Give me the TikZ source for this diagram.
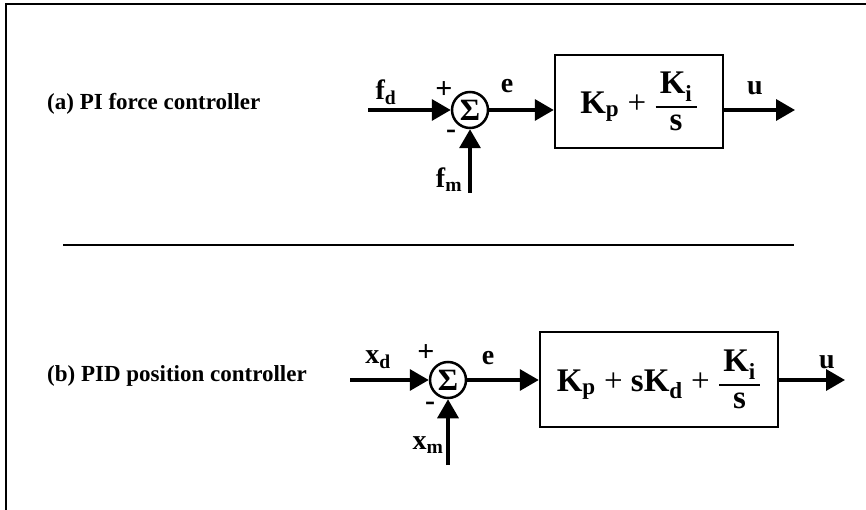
\documentclass[tikz,border=0pt]{standalone}
\usepackage{amsmath}
\usepackage{fontspec}
\setmainfont{Liberation Serif}
\usepackage{tikz}
\usetikzlibrary{arrows.meta,positioning}

\tikzset{
  sig/.style={line width=3.5pt,-{Triangle[length=19pt,width=21pt]}},
  sumnode/.style={circle,draw,line width=2.5pt,minimum size=36pt,inner sep=0pt,
    font=\bfseries\fontsize{31}{31}\selectfont},
  ctrlbox/.style={draw,line width=2.5pt,inner sep=0pt,
    font=\bfseries\fontsize{33}{35}\selectfont},
  lbl/.style={inner sep=0pt,font=\bfseries\fontsize{28}{29}\selectfont},
  sgn/.style={inner sep=0pt,font=\bfseries\fontsize{30}{30}\selectfont},
  desc/.style={inner sep=0pt,anchor=west,font=\bfseries\fontsize{23}{25}\selectfont},
  frameline/.style={line width=2pt},
}
\newcommand{\fracKs}{$\genfrac{}{}{1.6pt}{0}{\,\text{K\textsubscript{i}}\,}{\text{s}}$}

\begin{document}
\begin{tikzpicture}[x=1pt,y=-1pt]
\useasboundingbox (0,0) rectangle (866,510);
% frame and separator
\draw[frameline] (6,510) -- (6,4) -- (866,4);
\draw[frameline] (63,245) -- (794,245);

% (a) PI force controller
\node[desc] (labA) at (47,104) {(a) PI force controller};
\node[sumnode] (sumA) at (470,110) {Σ};
\node[ctrlbox,minimum width=168pt,minimum height=93pt] (ctrlA) at (639,101.5)
  {K\textsubscript{p} {\mdseries +} \fracKs};
\coordinate (fdin) at (368,110);
\coordinate (fmin) at (470,193);
\coordinate (uoutA) at (795,110);
\draw[sig] (fdin) -- (sumA.west);
\draw[sig] (fmin) -- (sumA.south);
\draw[sig] (sumA.east) -- (ctrlA.west |- sumA.east);
\draw[sig] (ctrlA.east |- sumA.east) -- (uoutA);
\node[lbl] (fdlab) at (386,92) {f\textsubscript{d}};
\node[sgn] (plusA) at (444,90) {+};
\node[sgn] (minusA) at (451,134) {-};
\node[lbl] (elabA) at (507,86) {e};
\node[lbl] (ulabA) at (755,88) {u};
\node[lbl] (fmlab) at (449,180) {f\textsubscript{m}};

% (b) PID position controller
\node[desc] (labB) at (47,376) {(b) PID position controller};
\node[sumnode] (sumB) at (448,380) {Σ};
\node[ctrlbox,minimum width=238pt,minimum height=95pt] (ctrlB) at (659,379.5)
  {K\textsubscript{p} {\mdseries +} sK\textsubscript{d} {\mdseries +} \fracKs};
\coordinate (xdin) at (350,380);
\coordinate (xmin) at (448,465);
\coordinate (uoutB) at (845,380);
\draw[sig] (xdin) -- (sumB.west);
\draw[sig] (xmin) -- (sumB.south);
\draw[sig] (sumB.east) -- (ctrlB.west |- sumB.east);
\draw[sig] (ctrlB.east |- sumB.east) -- (uoutB);
\node[lbl] (xdlab) at (378,360) {x\textsubscript{d}};
\node[sgn] (plusB) at (426,353) {+};
\node[sgn] (minusB) at (430,406) {-};
\node[lbl] (elabB) at (488,358) {e};
\node[lbl] (ulabB) at (827,362) {u};
\node[lbl] (xmlab) at (428,445) {x\textsubscript{m}};
\end{tikzpicture}
\end{document}
